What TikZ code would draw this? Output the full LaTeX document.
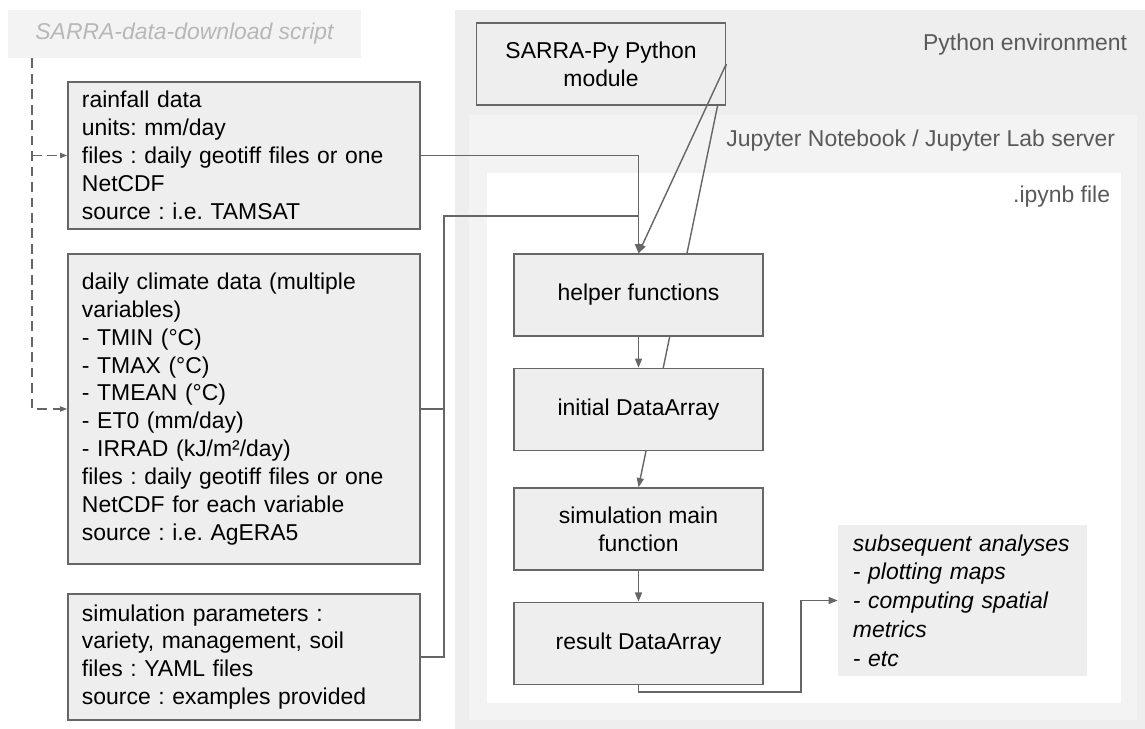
\documentclass[tikz,border=0pt]{standalone}
\usepackage{fontspec}
\setmainfont{Liberation Sans}
\usetikzlibrary{arrows.meta, positioning, backgrounds}
\definecolor{boxfill}{HTML}{EEEEEE}
\definecolor{envfill}{HTML}{EEEEEE}
\definecolor{srvfill}{HTML}{F3F3F3}
\definecolor{edge}{HTML}{666666}
\definecolor{lbl}{HTML}{595959}
\definecolor{faint}{HTML}{B7B7B7}
\frenchspacing

\begin{document}
\begin{tikzpicture}[
    x=0.025cm, y=-0.025cm,
    >={Triangle[length=6.5pt,width=5pt]},
    every node/.style={font=\fontsize{16.3}{19.85}\selectfont},
    data/.style ={draw=edge, line width=1pt, fill=boxfill, align=left,
                  text width=8.1cm, inner xsep=0.35cm, inner ysep=0pt},
    stepbox/.style={draw=edge, line width=1pt, fill=boxfill, align=center,
                  minimum width=6.225cm, minimum height=2.05cm, inner sep=2pt},
    note/.style ={fill=boxfill, align=left, text width=5.475cm,
                  inner xsep=0.375cm, minimum height=3.775cm,
                  font=\fontsize{16.3}{20.5}\selectfont\itshape},
    zone/.style ={anchor=east, text=lbl},
    flow/.style ={->, line width=1pt, edge},
    feed/.style ={line width=1pt, edge},
    dashflow/.style={-{Triangle[length=5pt,width=3.6pt]}, line width=1pt, edge,
                  dash pattern=on 7pt off 4pt},
]
\useasboundingbox (0,0) rectangle (1145,729);
\node[fill=srvfill, text=faint, minimum width=8.825cm, minimum height=1.2cm,
      font=\fontsize{16.3}{19.85}\selectfont\itshape] (script) at (184.5,34)
      {SARRA-data-download script};
\node[data, minimum height=3.675cm] (rain) at (244,155.5)
      {rainfall data\\ units: mm/day\\ files : daily geotiff files or one\\
       NetCDF\\ source : i.e. TAMSAT};
\node[data, minimum height=7.75cm] (clim) at (244,409)
      {daily climate data (multiple\\ variables)\\ - TMIN (°C)\\ - TMAX (°C)\\
       - TMEAN (°C)\\ - ET0 (mm/day)\\ - IRRAD (kJ/m²/day)\\
       files : daily geotiff files or one\\ NetCDF for each variable\\
       source : i.e. AgERA5};
\node[data, minimum height=3.15cm] (params) at (244,657)
      {simulation parameters :\\ variety, management, soil\\ files : YAML files\\
       source : examples provided};
\node[stepbox] (sarra)  at (601,64) {SARRA-Py Python\\ module};
\node[stepbox] (helper) at (638.5,295) {helper functions};
\node[stepbox, below=7.75mm of helper] (initda) {initial DataArray};
\node[stepbox, below=9mm of initda]    (simfun) {simulation main\\ function};
\node[stepbox, below=7.75mm of simfun] (resda)  {result DataArray};
\node[note] (after) at (962.5,600.5)
      {subsequent analyses\\ - plotting maps\\ - computing spatial\\ metrics\\ - etc};
\node[zone] (pylbl)  at (1132,45)  {Python environment};
\node[zone] (juplbl) at (1120,141) {Jupyter Notebook / Jupyter Lab server};
\node[zone] (nblbl)  at (1115,197) {.ipynb file};
\coordinate (dn)   at (32,409);
\coordinate (bus)  at (444,216);
\coordinate (turn) at (801,692);
\begin{scope}[on background layer]
  \fill[envfill] (455,10) rectangle (1145,729);
  \fill[srvfill] (469,115) rectangle (1137,720);
  \fill[white]   (487,173) rectangle (1121,703);
\end{scope}
\begin{scope}[on background layer]
  \draw[flow] (sarra.east) -- (simfun.north);
\end{scope}
\draw[dashflow] (script.south -| dn) -- (dn) -- (clim.west);
\draw[dashflow] (rain.west -| dn) -- (rain.west);
\draw[flow] (rain.east) -| (helper.north);
\draw[feed] (clim.east) -- (clim.east -| bus);
\draw[feed] (params.east) -| (bus) -- (bus -| helper.north);
\draw[flow] (sarra.east) -- (helper.north);
\draw[flow] (helper) -- (initda);
\draw[flow] (simfun) -- (resda);
\draw[flow] (resda.south) |- (turn) |- (after.west);
\end{tikzpicture}
\end{document}
